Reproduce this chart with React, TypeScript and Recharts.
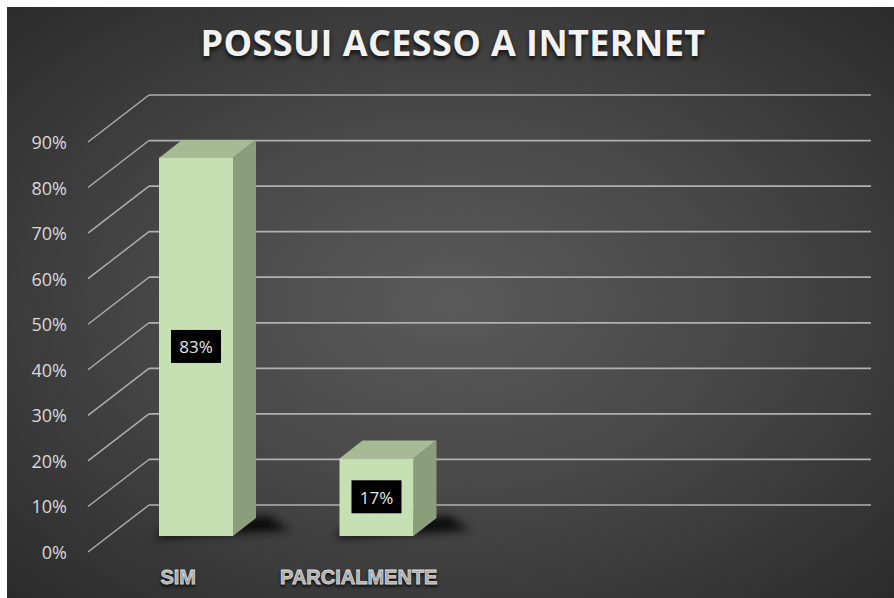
import React from "react";
import { BarChart, Bar, XAxis, YAxis, CartesianGrid, LabelList } from "recharts";

// categories (two empty slots on the right, as in the original sheet)
const categories = ["SIM", "PARCIALMENTE", "", ""];
const percentages = [83, 17, null, null];
const yTicks = [0, 10, 20, 30, 40, 50, 60, 70, 80, 90];

const data = categories.map((name, i) => ({ name, value: percentages[i] }));

const W = 887;
const H = 591;

// 3d look: floor depth (front -> back wall) and bar depth
const WALL_DX = 61;
const WALL_DY = 47;
const BAR_SHIFT_X = 18;
const BAR_SHIFT_Y = -16;
const BAR_DX = 23;
const BAR_DY = 18;

const GRID = "#b0b0b0";

function GridLine(props: any) {
  const { x1, y1, x2 } = props;
  return (
    <g>
      <line x1={x1} y1={y1} x2={x1 + WALL_DX} y2={y1 - WALL_DY} stroke={GRID} strokeWidth={1.4} />
      <line x1={x1 + WALL_DX} y1={y1 - WALL_DY} x2={x2 + WALL_DX} y2={y1 - WALL_DY} stroke={GRID} strokeWidth={1.7} />
    </g>
  );
}

function Bar3D(props: any) {
  const { x, y, width, height, index } = props;
  if (!height || height <= 0) return null;
  const fx = x + BAR_SHIFT_X;
  const fy = y + BAR_SHIFT_Y;
  const w = width;
  const h = height;
  const bottom = fy + h;
  const fid = `shadow-${index}`;
  return (
    <g>
      <defs>
        <filter id={fid} x="-50%" y="-200%" width="200%" height="500%">
          <feGaussianBlur stdDeviation="5" />
        </filter>
      </defs>
      <polygon
        points={`${fx - 6},${bottom + 2} ${fx + w + BAR_DX + 34},${bottom - 6} ${fx + w + BAR_DX + 12},${bottom - BAR_DY - 2} ${fx + 10},${bottom - 10}`}
        fill="#000"
        opacity={0.85}
        filter={`url(#${fid})`}
      />
      <polygon
        points={`${fx},${fy} ${fx + BAR_DX},${fy - BAR_DY} ${fx + w + BAR_DX},${fy - BAR_DY} ${fx + w},${fy}`}
        fill="#a6bb93"
      />
      <polygon
        points={`${fx + w},${fy} ${fx + w + BAR_DX},${fy - BAR_DY} ${fx + w + BAR_DX},${bottom - BAR_DY} ${fx + w},${bottom}`}
        fill="#8b9e7b"
      />
      <rect x={fx} y={fy} width={w} height={h} fill="#c5e0b3" />
    </g>
  );
}

function ValueLabel(props: any) {
  const { x, y, width, height, value } = props;
  if (value == null) return null;
  const cx = x + BAR_SHIFT_X + width / 2;
  const cy = y + BAR_SHIFT_Y + height / 2;
  return (
    <g>
      <rect x={cx - 25} y={cy - 17} width={50} height={33} fill="#000" />
      <text
        x={cx}
        y={cy}
        textAnchor="middle"
        dominantBaseline="central"
        fontFamily="'Open Sans', sans-serif"
        fontSize={17}
        fill="#e6e6e6"
      >
        {`${value}%`}
      </text>
    </g>
  );
}

function YTick(props: any) {
  const { x, y, payload } = props;
  return (
    <text
      x={x - 21}
      y={y}
      textAnchor="end"
      dominantBaseline="central"
      fontFamily="'Open Sans', sans-serif"
      fontSize={18}
      fill="#d9d9d9"
    >
      {`${payload.value}%`}
    </text>
  );
}

function XTick(props: any) {
  const { x, y, payload } = props;
  if (!payload.value) return null;
  return (
    <text
      x={x}
      y={y + 25}
      textAnchor="middle"
      dominantBaseline="central"
      fontFamily="'Liberation Sans', Arial, sans-serif"
      fontWeight={700}
      fontSize={20}
      fill="#d9d9d9"
      stroke="#d9d9d9"
      strokeWidth={0.8}
      style={{ textShadow: "0 2px 3px rgba(0,0,0,0.7)" }}
    >
      {payload.value}
    </text>
  );
}

export default function App() {
  return (
    <div
      style={{
        position: "absolute",
        left: 7,
        top: 7,
        width: W,
        height: H,
        background: "radial-gradient(ellipse at 50% 50%, #5a5a5a 0%, #484848 45%, #2b2b2b 100%)",
      }}
    >
      <div
        style={{
          position: "absolute",
          left: 0,
          top: 11,
          width: 892,
          textAlign: "center",
          fontFamily: "'Open Sans', sans-serif",
          fontWeight: 700,
          fontSize: 36,
          color: "#f2f2f2",
          letterSpacing: 0.4,
          textShadow: "0 3px 4px rgba(0,0,0,0.75)",
        }}
      >
        POSSUI ACESSO A INTERNET
      </div>
      <BarChart
        width={W}
        height={H}
        data={data}
        margin={{ top: 135, right: 84, left: 0, bottom: 0 }}
        style={{ position: "absolute", left: 0, top: 0 }}
      >
        <CartesianGrid vertical={false} horizontal={(p: any) => <GridLine key={p.key} {...p} />} />
        <XAxis
          dataKey="name"
          height={46}
          axisLine={false}
          tickLine={false}
          tickSize={0}
          tickMargin={0}
          interval={0}
          tick={<XTick />}
        />
        <YAxis
          width={81}
          domain={[0, 90]}
          ticks={yTicks}
          axisLine={false}
          tickLine={false}
          tickSize={0}
          tickMargin={0}
          tick={<YTick />}
        />
        <Bar dataKey="value" barSize={74} shape={<Bar3D />} isAnimationActive={false}>
          <LabelList dataKey="value" content={<ValueLabel />} />
        </Bar>
      </BarChart>
    </div>
  );
}
